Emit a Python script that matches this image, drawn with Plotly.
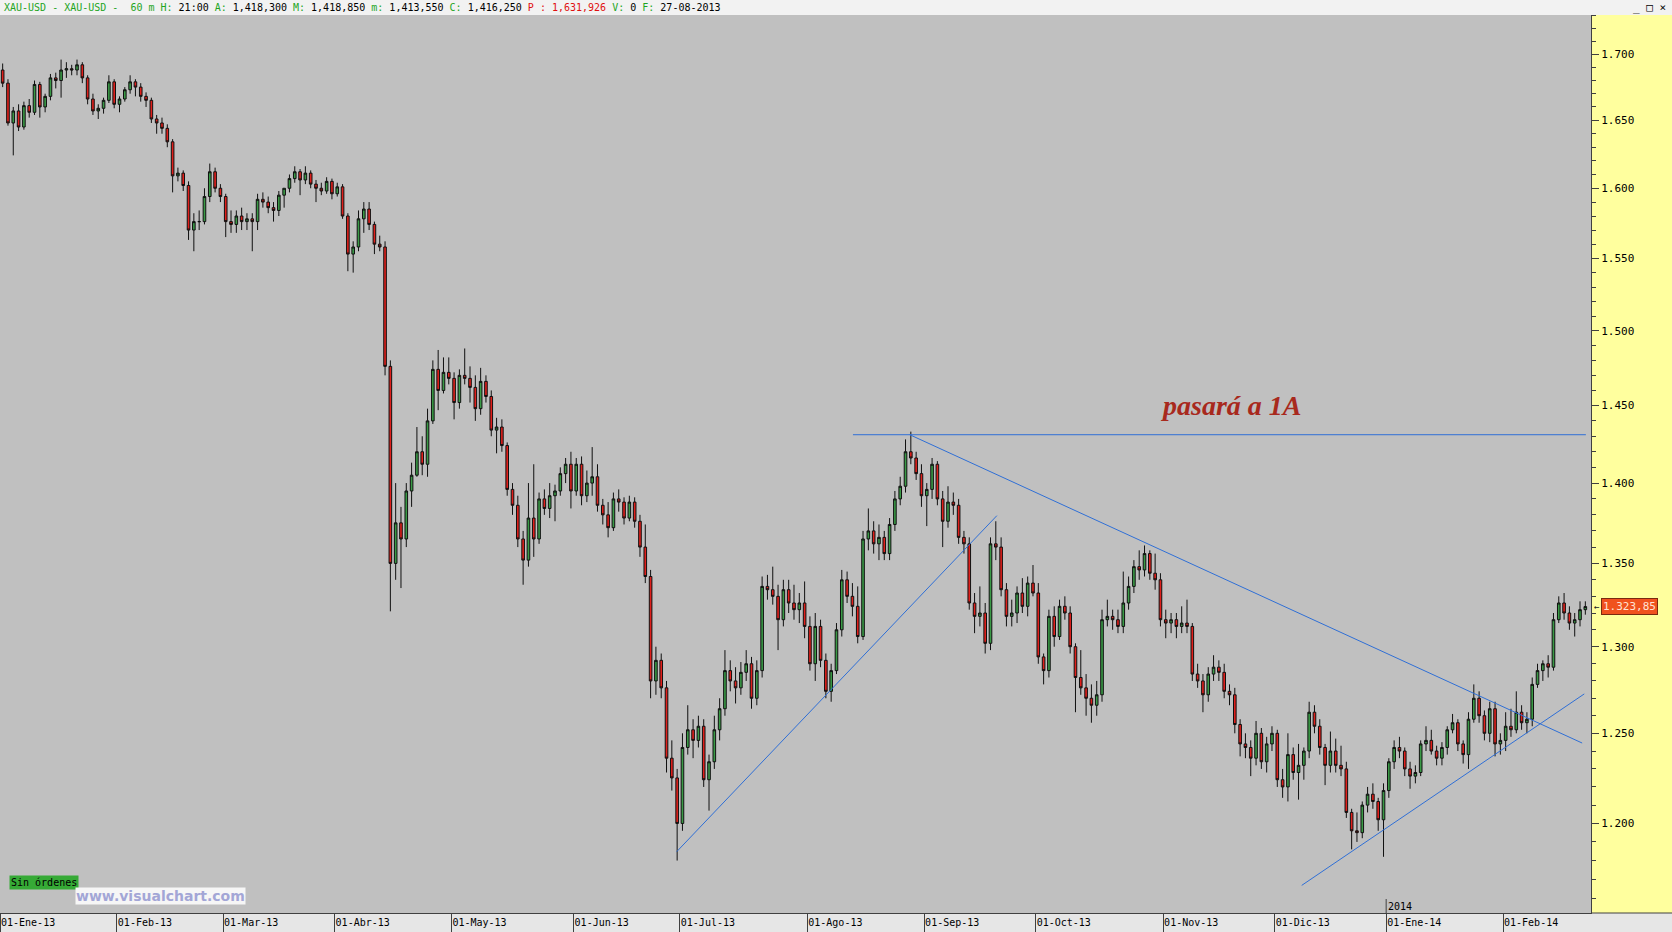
import math
import plotly.graph_objects as go

# ---- daily OHLC (bar 0 = 02-Jan-2013 ... bar 298 = 21-Feb-2014) ----
open_ = [
    1688, 1678, 1648, 1657, 1645, 1661, 1656, 1677, 1660, 1668,
    1682, 1680, 1688, 1689, 1688, 1692, 1682, 1666, 1657, 1659,
    1665, 1679, 1662, 1666, 1673, 1679, 1675, 1668, 1665, 1651,
    1648, 1644, 1634, 1609, 1611, 1602, 1570, 1576, 1576, 1594,
    1612, 1600, 1594, 1576, 1574, 1580, 1576, 1578, 1576, 1592,
    1590, 1586, 1584, 1595, 1600, 1607, 1612, 1606, 1611, 1603,
    1600, 1598, 1605, 1596, 1601, 1580, 1553, 1558, 1578, 1585,
    1574, 1560, 1558, 1476, 1350, 1375, 1365, 1395, 1405, 1420,
    1412, 1440, 1474, 1460, 1472, 1468, 1452, 1470, 1468, 1462,
    1448, 1466, 1456, 1434, 1436, 1424, 1396, 1386, 1365, 1352,
    1378, 1365, 1390, 1384, 1392, 1395, 1406, 1412, 1395, 1412,
    1392, 1400, 1404, 1386, 1380, 1372, 1390, 1388, 1378, 1388,
    1376, 1360, 1342, 1280, 1292, 1276, 1236, 1225, 1200, 1242,
    1252, 1246, 1254, 1224, 1234, 1252, 1264, 1286, 1280, 1276,
    1285, 1290, 1270, 1286, 1336, 1334, 1330, 1316, 1334, 1326,
    1322, 1326, 1312, 1290, 1312, 1292, 1274, 1286, 1310, 1340,
    1330, 1324, 1306, 1365, 1370, 1362, 1366, 1356, 1374, 1390,
    1398, 1420, 1416, 1406, 1392, 1396, 1412, 1390, 1376, 1388,
    1386, 1366, 1362, 1326, 1318, 1320, 1302, 1362, 1360, 1334,
    1318, 1320, 1332, 1324, 1338, 1332, 1294, 1286, 1318, 1306,
    1324, 1320, 1300, 1282, 1276, 1270, 1266, 1272, 1316, 1318,
    1316, 1312, 1326, 1336, 1348, 1346, 1356, 1344, 1340, 1316,
    1314, 1316, 1312, 1314, 1312, 1284, 1280, 1272, 1284, 1288,
    1285, 1274, 1272, 1255, 1244, 1242, 1236, 1250, 1234, 1244,
    1250, 1224, 1220, 1238, 1228, 1232, 1240, 1262, 1254, 1242,
    1232, 1240, 1232, 1230, 1206, 1196, 1195, 1210, 1216, 1212,
    1202, 1218, 1234, 1242, 1240, 1230, 1226, 1228, 1244, 1246,
    1240, 1236, 1242, 1252, 1256, 1244, 1238, 1258, 1270, 1260,
    1250, 1264, 1244, 1246, 1254, 1252, 1262, 1256, 1258, 1278,
    1286, 1290, 1288, 1316, 1326, 1320, 1314, 1316, 1322,
]
high = [
    1693, 1681, 1660, 1662, 1664, 1666, 1680, 1679, 1670, 1685,
    1686, 1696, 1694, 1692, 1696, 1694, 1684, 1670, 1662, 1667,
    1684, 1681, 1668, 1675, 1684, 1681, 1678, 1671, 1667, 1654,
    1652, 1647, 1636, 1615, 1613, 1605, 1582, 1584, 1600, 1618,
    1615, 1603, 1596, 1584, 1584, 1586, 1582, 1582, 1596, 1597,
    1594, 1590, 1598, 1600, 1610, 1616, 1614, 1616, 1613, 1606,
    1604, 1608, 1607, 1604, 1603, 1582, 1562, 1584, 1590, 1590,
    1576, 1566, 1562, 1480, 1400, 1385, 1400, 1413, 1436, 1430,
    1448, 1480, 1487, 1482, 1482, 1472, 1474, 1488, 1476, 1470,
    1475, 1470, 1460, 1442, 1441, 1426, 1400, 1392, 1370, 1400,
    1412, 1394, 1396, 1400, 1399, 1410, 1416, 1420, 1416, 1417,
    1408, 1423, 1412, 1390, 1388, 1394, 1396, 1391, 1392, 1391,
    1380, 1374, 1346, 1300, 1296, 1280, 1246, 1230, 1250, 1266,
    1258, 1260, 1258, 1238, 1260, 1270, 1298, 1292, 1288, 1291,
    1298, 1294, 1292, 1342, 1343, 1348, 1337, 1340, 1340, 1337,
    1332, 1339, 1318, 1320, 1316, 1296, 1290, 1314, 1346, 1345,
    1338, 1336, 1370, 1384, 1376, 1374, 1370, 1378, 1395, 1404,
    1428, 1433, 1420, 1412, 1400, 1416, 1414, 1395, 1398, 1394,
    1390, 1370, 1366, 1332, 1336, 1326, 1366, 1376, 1366, 1338,
    1328, 1336, 1341, 1342, 1349, 1338, 1296, 1322, 1324, 1328,
    1330, 1324, 1302, 1298, 1284, 1278, 1280, 1322, 1328, 1322,
    1322, 1345, 1342, 1352, 1358, 1361, 1358, 1356, 1344, 1322,
    1320, 1320, 1324, 1328, 1314, 1290, 1284, 1288, 1295, 1292,
    1290, 1278, 1276, 1258, 1250, 1246, 1257, 1253, 1248, 1254,
    1252, 1230, 1250, 1242, 1244, 1242, 1268, 1266, 1258, 1244,
    1251, 1247, 1243, 1234, 1208, 1206, 1212, 1220, 1222, 1214,
    1222, 1236, 1246, 1248, 1242, 1234, 1232, 1246, 1254, 1252,
    1243, 1245, 1254, 1261, 1258, 1246, 1262, 1278, 1274, 1263,
    1268, 1268, 1250, 1262, 1264, 1274, 1266, 1262, 1282, 1290,
    1292, 1295, 1320, 1330, 1332, 1324, 1320, 1327, 1327,
]
low = [
    1675, 1646, 1624, 1642, 1643, 1652, 1654, 1652, 1656, 1665,
    1674, 1667, 1682, 1684, 1684, 1678, 1662, 1654, 1651, 1655,
    1663, 1659, 1656, 1664, 1670, 1668, 1664, 1660, 1648, 1640,
    1640, 1630, 1597, 1605, 1598, 1563, 1555, 1570, 1574, 1590,
    1597, 1590, 1565, 1568, 1568, 1570, 1570, 1555, 1570, 1586,
    1582, 1576, 1580, 1586, 1597, 1604, 1595, 1603, 1600, 1590,
    1595, 1596, 1592, 1594, 1578, 1541, 1540, 1555, 1568, 1570,
    1553, 1555, 1470, 1321, 1340, 1335, 1360, 1385, 1404, 1405,
    1404, 1438, 1447, 1458, 1464, 1441, 1448, 1464, 1452, 1440,
    1444, 1452, 1430, 1419, 1420, 1392, 1380, 1360, 1337, 1348,
    1354, 1362, 1380, 1378, 1376, 1392, 1400, 1384, 1392, 1386,
    1388, 1392, 1382, 1374, 1366, 1370, 1382, 1374, 1376, 1372,
    1354, 1338, 1270, 1272, 1270, 1228, 1218, 1180, 1196, 1238,
    1236, 1242, 1220, 1207, 1230, 1246, 1260, 1274, 1267, 1272,
    1280, 1264, 1266, 1282, 1328, 1325, 1298, 1312, 1320, 1316,
    1314, 1305, 1286, 1280, 1288, 1270, 1268, 1284, 1306, 1326,
    1318, 1302, 1304, 1358, 1356, 1352, 1352, 1352, 1370, 1386,
    1394, 1412, 1402, 1385, 1373, 1390, 1386, 1360, 1372, 1380,
    1362, 1356, 1322, 1308, 1312, 1296, 1298, 1352, 1330, 1312,
    1312, 1314, 1320, 1318, 1330, 1290, 1278, 1282, 1300, 1304,
    1316, 1296, 1262, 1272, 1260, 1256, 1260, 1268, 1312, 1310,
    1308, 1308, 1322, 1332, 1340, 1342, 1340, 1334, 1312, 1305,
    1308, 1305, 1308, 1308, 1280, 1276, 1262, 1268, 1280, 1280,
    1270, 1266, 1250, 1237, 1236, 1226, 1232, 1230, 1228, 1240,
    1220, 1214, 1212, 1224, 1213, 1224, 1236, 1250, 1238, 1221,
    1228, 1228, 1226, 1203, 1186, 1190, 1192, 1206, 1208, 1196,
    1182, 1214, 1230, 1236, 1226, 1219, 1222, 1226, 1240, 1238,
    1232, 1232, 1238, 1250, 1240, 1233, 1230, 1256, 1256, 1246,
    1245, 1237, 1238, 1240, 1248, 1250, 1252, 1250, 1254, 1276,
    1280, 1282, 1286, 1314, 1316, 1310, 1306, 1312, 1319,
]
close = [
    1678, 1648, 1657, 1645, 1661, 1656, 1677, 1660, 1668, 1682,
    1680, 1688, 1689, 1688, 1692, 1682, 1666, 1657, 1659, 1665,
    1679, 1662, 1666, 1673, 1679, 1675, 1668, 1665, 1651, 1648,
    1644, 1634, 1609, 1611, 1602, 1570, 1576, 1576, 1594, 1612,
    1600, 1594, 1576, 1574, 1580, 1576, 1578, 1576, 1592, 1590,
    1586, 1584, 1595, 1600, 1607, 1612, 1606, 1611, 1603, 1600,
    1598, 1605, 1596, 1601, 1580, 1553, 1558, 1578, 1585, 1574,
    1560, 1558, 1476, 1350, 1375, 1365, 1395, 1405, 1420, 1412,
    1440, 1474, 1460, 1472, 1468, 1452, 1470, 1468, 1462, 1448,
    1466, 1456, 1434, 1436, 1424, 1396, 1386, 1365, 1352, 1378,
    1365, 1390, 1384, 1392, 1395, 1406, 1412, 1395, 1412, 1392,
    1400, 1404, 1386, 1380, 1372, 1390, 1388, 1378, 1388, 1376,
    1360, 1342, 1280, 1292, 1276, 1236, 1225, 1200, 1242, 1252,
    1246, 1254, 1224, 1234, 1252, 1264, 1286, 1280, 1276, 1285,
    1290, 1270, 1286, 1336, 1334, 1330, 1316, 1334, 1326, 1322,
    1326, 1312, 1290, 1312, 1292, 1274, 1286, 1310, 1340, 1330,
    1324, 1306, 1365, 1370, 1362, 1366, 1356, 1374, 1390, 1398,
    1420, 1416, 1406, 1392, 1396, 1412, 1390, 1376, 1388, 1386,
    1366, 1362, 1326, 1318, 1320, 1302, 1362, 1360, 1334, 1318,
    1320, 1332, 1324, 1338, 1332, 1294, 1286, 1318, 1306, 1324,
    1320, 1300, 1282, 1276, 1270, 1266, 1272, 1316, 1318, 1316,
    1312, 1326, 1336, 1348, 1346, 1356, 1344, 1340, 1316, 1314,
    1316, 1312, 1314, 1312, 1284, 1280, 1272, 1284, 1288, 1285,
    1274, 1272, 1255, 1244, 1242, 1236, 1250, 1234, 1244, 1250,
    1224, 1220, 1238, 1228, 1232, 1240, 1262, 1254, 1242, 1232,
    1240, 1232, 1230, 1206, 1196, 1195, 1210, 1216, 1212, 1202,
    1218, 1234, 1242, 1240, 1230, 1226, 1228, 1244, 1246, 1240,
    1236, 1242, 1252, 1256, 1244, 1238, 1258, 1270, 1260, 1250,
    1264, 1244, 1246, 1254, 1252, 1262, 1256, 1258, 1278, 1286,
    1290, 1288, 1316, 1326, 1320, 1314, 1316, 1322, 1323.85,
]
assert len(open_) == len(high) == len(low) == len(close), (len(open_), len(high), len(low), len(close))

# ---- axes ----
month_ticks = [0, 22, 42, 63, 85, 108, 128, 152, 174, 195, 219, 240, 261, 283]
month_labels = ["01-Ene-13", "01-Feb-13", "01-Mar-13", "01-Abr-13", "01-May-13", "01-Jun-13",
                "01-Jul-13", "01-Ago-13", "01-Sep-13", "01-Oct-13", "01-Nov-13", "01-Dic-13",
                "01-Ene-14", "01-Feb-14"]
price_ticks = [1200, 1250, 1300, 1350, 1400, 1450, 1500, 1550, 1600, 1650, 1700]
price_labels = ["1.200", "1.250", "1.300", "1.350", "1.400", "1.450", "1.500", "1.550",
                "1.600", "1.650", "1.700"]
minor_price_ticks = [v for v in range(1160, 1740, 10) if v % 50 != 0]
last_price = 1323.85

# ---- hand drawn trend lines (bar, price) ----
resist_x, resist_y = [160.6, 298.6], [1431, 1431]
down_x, down_y = [171.3, 297.9], [1431, 1244.5]
up1_x, up1_y = [127.4, 187.7], [1184.7, 1379.5]
up2_x, up2_y = [245.1, 298.3], [1166.8, 1272.5]

bars = [i + 0.5 for i in range(len(close))]

fig = go.Figure()
fig.add_trace(go.Candlestick(
    x=bars, open=open_, high=high, low=low, close=close,
    increasing=dict(line=dict(color="#101010", width=1), fillcolor="#3A9A46"),
    decreasing=dict(line=dict(color="#101010", width=1), fillcolor="#E0201C"),
    whiskerwidth=0, hoverinfo="skip", showlegend=False,
))
for tx, ty in [(resist_x, resist_y), (down_x, down_y), (up1_x, up1_y), (up2_x, up2_y)]:
    fig.add_trace(go.Scatter(x=tx, y=ty, mode="lines",
                             line=dict(color="#2F6FD6", width=1),
                             hoverinfo="skip", showlegend=False))

W, H = 1672, 932
ML, MR, MT, MB = 0, 81, 15, 19
PW, PH = W - ML - MR, H - MT - MB
xr = PW / 5.311

mono = "DejaVu Sans Mono"
fig.update_layout(
    width=W, height=H,
    margin=dict(l=ML, r=MR, t=MT, b=MB, pad=0),
    paper_bgcolor="#E6E6E6", plot_bgcolor="#C0C0C0",
    showlegend=False,
    xaxis=dict(
        range=[0, xr], showgrid=False, zeroline=False,
        showline=True, linecolor="#404040", linewidth=1,
        ticks="outside", ticklen=19, tickcolor="#404040", tickwidth=1,
        tickmode="array", tickvals=month_ticks, ticktext=month_labels,
        tickfont=dict(family=mono, size=10, color="#000000"),
        ticklabelposition="outside right", ticklabelstandoff=0,
        rangeslider=dict(visible=False), fixedrange=True,
    ),
    yaxis=dict(
        type="log", side="right",
        range=[math.log10(1152.3), math.log10(1730.6)],
        showgrid=False, zeroline=False,
        showline=True, linecolor="#404040", linewidth=1,
        ticks="outside", ticklen=7, tickcolor="#404040", tickwidth=1,
        tickmode="array", tickvals=price_ticks, ticktext=price_labels,
        tickfont=dict(family=mono, size=11, color="#000000"),
        minor=dict(tickmode="array", tickvals=minor_price_ticks, ticks="outside",
                   ticklen=4, tickcolor="#404040", tickwidth=1, showgrid=False),
        fixedrange=True,
    ),
)

xr_paper = W / PW
top_paper = 1 + MT / PH
fig.add_shape(type="rect", xref="paper", yref="paper", x0=1, x1=xr_paper, y0=0, y1=1,
              fillcolor="#FFFF9E", line=dict(width=0), layer="below")
fig.add_shape(type="rect", xref="paper", yref="paper", x0=0, x1=xr_paper, y0=1, y1=top_paper,
              fillcolor="#F2F2F2", line=dict(width=0), layer="below")
fig.add_shape(type="line", xref="paper", yref="paper", x0=1, x1=xr_paper, y0=0, y1=0,
              line=dict(color="#404040", width=1))
fig.add_shape(type="line", xref="x", yref="paper", x0=month_ticks[12], x1=month_ticks[12],
              y0=0, y1=14 / PH, line=dict(color="#404040", width=1))

G, R = "#1FA51F", "#E01010"
header = (f"<span style='color:{G}'>XAU-USD - XAU-USD -  60 m H:</span> 21:00 "
          f"<span style='color:{G}'>A:</span> 1,418,300 "
          f"<span style='color:{G}'>M:</span> 1,418,850 "
          f"<span style='color:{G}'>m:</span> 1,413,550 "
          f"<span style='color:{G}'>C:</span> 1,416,250 "
          f"<span style='color:{R}'>P : 1,631,926</span> "
          f"<span style='color:{G}'>V:</span> 0 "
          f"<span style='color:{G}'>F:</span> 27-08-2013")
fig.add_annotation(text=header, xref="paper", yref="paper", x=2 / PW, y=1 + 7.5 / PH,
                   xanchor="left", yanchor="middle", showarrow=False,
                   font=dict(family=mono, size=10, color="#000000"))
fig.add_annotation(text="_ □ ×", xref="paper", yref="paper", x=(W - 4) / PW, y=1 + 7.5 / PH,
                   xanchor="right", yanchor="middle", showarrow=False,
                   font=dict(family=mono, size=11, color="#000000"))
fig.add_annotation(text="<b><i>pasará a 1A</i></b>", xref="x", yref="y",
                   x=231.8, y=math.log10(1450), xanchor="center", yanchor="middle",
                   showarrow=False, font=dict(family="Liberation Serif", size=28, color="#A8291D"))
fig.add_annotation(text="1.323,85", xref="paper", yref="y", x=1 + 10 / PW,
                   y=math.log10(last_price), xanchor="left", yanchor="middle", showarrow=False,
                   bgcolor="#F0521E", bordercolor="#7A2A10", borderwidth=1, borderpad=1,
                   font=dict(family=mono, size=11, color="#FFE2D4"))
fig.add_annotation(text="←", xref="paper", yref="y", x=1 + 1 / PW,
                   y=math.log10(last_price), xanchor="left", yanchor="middle", showarrow=False,
                   font=dict(family=mono, size=9, color="#202020"))
fig.add_annotation(text="Sin órdenes", xref="paper", yref="paper", x=9 / PW, y=31 / PH,
                   xanchor="left", yanchor="middle", showarrow=False,
                   bgcolor="#36AA36", borderpad=1,
                   font=dict(family=mono, size=10, color="#000000"))
fig.add_annotation(text="<b>www.visualchart.com</b>", xref="paper", yref="paper",
                   x=75 / PW, y=17.5 / PH, xanchor="left", yanchor="middle", showarrow=False,
                   bgcolor="#F6F6F6", borderpad=0,
                   font=dict(family="DejaVu Sans", size=14, color="#A3A6D6"))
fig.add_annotation(text="2014", xref="x", yref="paper", x=month_ticks[12], y=7 / PH,
                   xanchor="left", yanchor="middle", showarrow=False,
                   font=dict(family=mono, size=10, color="#000000"))

fig.write_html("out.html", config={"displayModeBar": False},
               post_script="document.body.style.margin='0';document.body.style.overflow='hidden';")
